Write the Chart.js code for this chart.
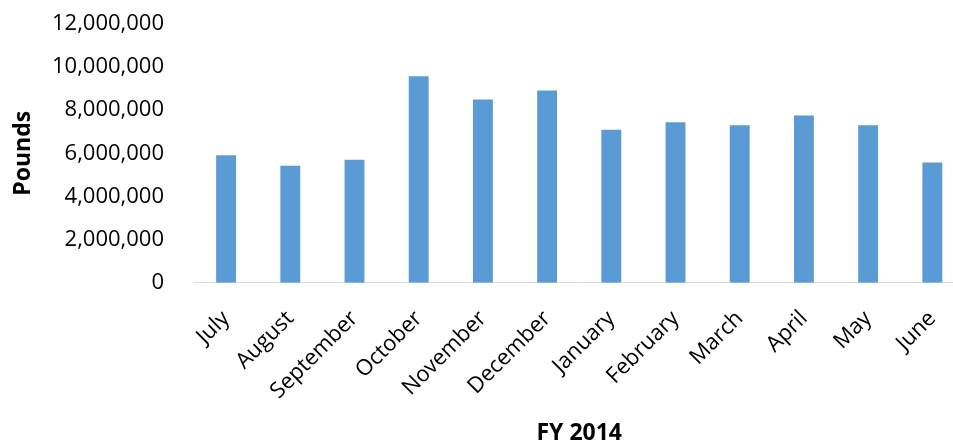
<!DOCTYPE html>
<html>
<head>
<meta charset="utf-8">
<script src="https://cdn.jsdelivr.net/npm/chart.js@4.4.0/dist/chart.umd.min.js"></script>
<style>
  html, body { margin: 0; padding: 0; background: #fff; overflow: hidden; }
  #wrap { width: 966px; height: 447px; }
</style>
</head>
<body>
<div id="wrap"><canvas id="poundsChart" width="966" height="447"></canvas></div>
<script>
// monthly pounds, fiscal year 2014
var months = ['July', 'August', 'September', 'October', 'November', 'December',
              'January', 'February', 'March', 'April', 'May', 'June'];
var pounds = [5910000, 5420000, 5700000, 9580000, 8500000, 8910000,
              7090000, 7440000, 7300000, 7760000, 7300000, 5580000];
var yTicks = [0, 2000000, 4000000, 6000000, 8000000, 10000000, 12000000];

var labelFont = { family: 'Open Sans', size: 22 };
var titleFont = { family: 'Open Sans', size: 23, weight: 'bold' };

var ctx = document.getElementById('poundsChart').getContext('2d');
var poundsChart = new Chart(ctx, {
    type: 'bar',
    data: {
        labels: months,
        datasets: [
            {
                label: 'Pounds',
                backgroundColor: '#5b9bd5',
                data: pounds,
                categoryPercentage: 1,
                barPercentage: 0.31
            }
        ]
    },
    options: {
        responsive: false,
        animation: false,
        layout: { padding: { top: 24, left: 0, right: 0, bottom: 0 } },
        plugins: {
            legend: { display: false },
            tooltip: { enabled: false }
        },
        scales: {
            x: {
                grid: { display: false },
                border: { color: '#d9d9d9', width: 1 },
                ticks: {
                    color: '#000',
                    font: labelFont,
                    minRotation: 45,
                    maxRotation: 45,
                    padding: 15
                },
                title: {
                    display: true,
                    text: 'FY 2014',
                    color: '#000',
                    font: titleFont,
                    padding: { top: 0, bottom: 0 }
                }
            },
            y: {
                min: yTicks[0],
                max: yTicks[yTicks.length - 1],
                grid: { display: false },
                border: { display: false },
                // fixed axis width; the wide label gap should not pad the top
                afterFit: function (scale) {
                    scale.width = 194;
                    scale.paddingTop = 0;
                    scale.paddingBottom = 0;
                },
                afterBuildTicks: function (scale) {
                    scale.ticks = yTicks.map(function (v) { return { value: v }; });
                },
                ticks: {
                    color: '#000',
                    font: labelFont,
                    padding: 22,
                    callback: function (v) { return v.toLocaleString('en-US'); }
                },
                title: {
                    display: true,
                    text: 'Pounds',
                    color: '#000',
                    font: titleFont,
                    padding: { top: 10, bottom: 0 }
                }
            }
        }
    }
});
</script>
</body>
</html>
